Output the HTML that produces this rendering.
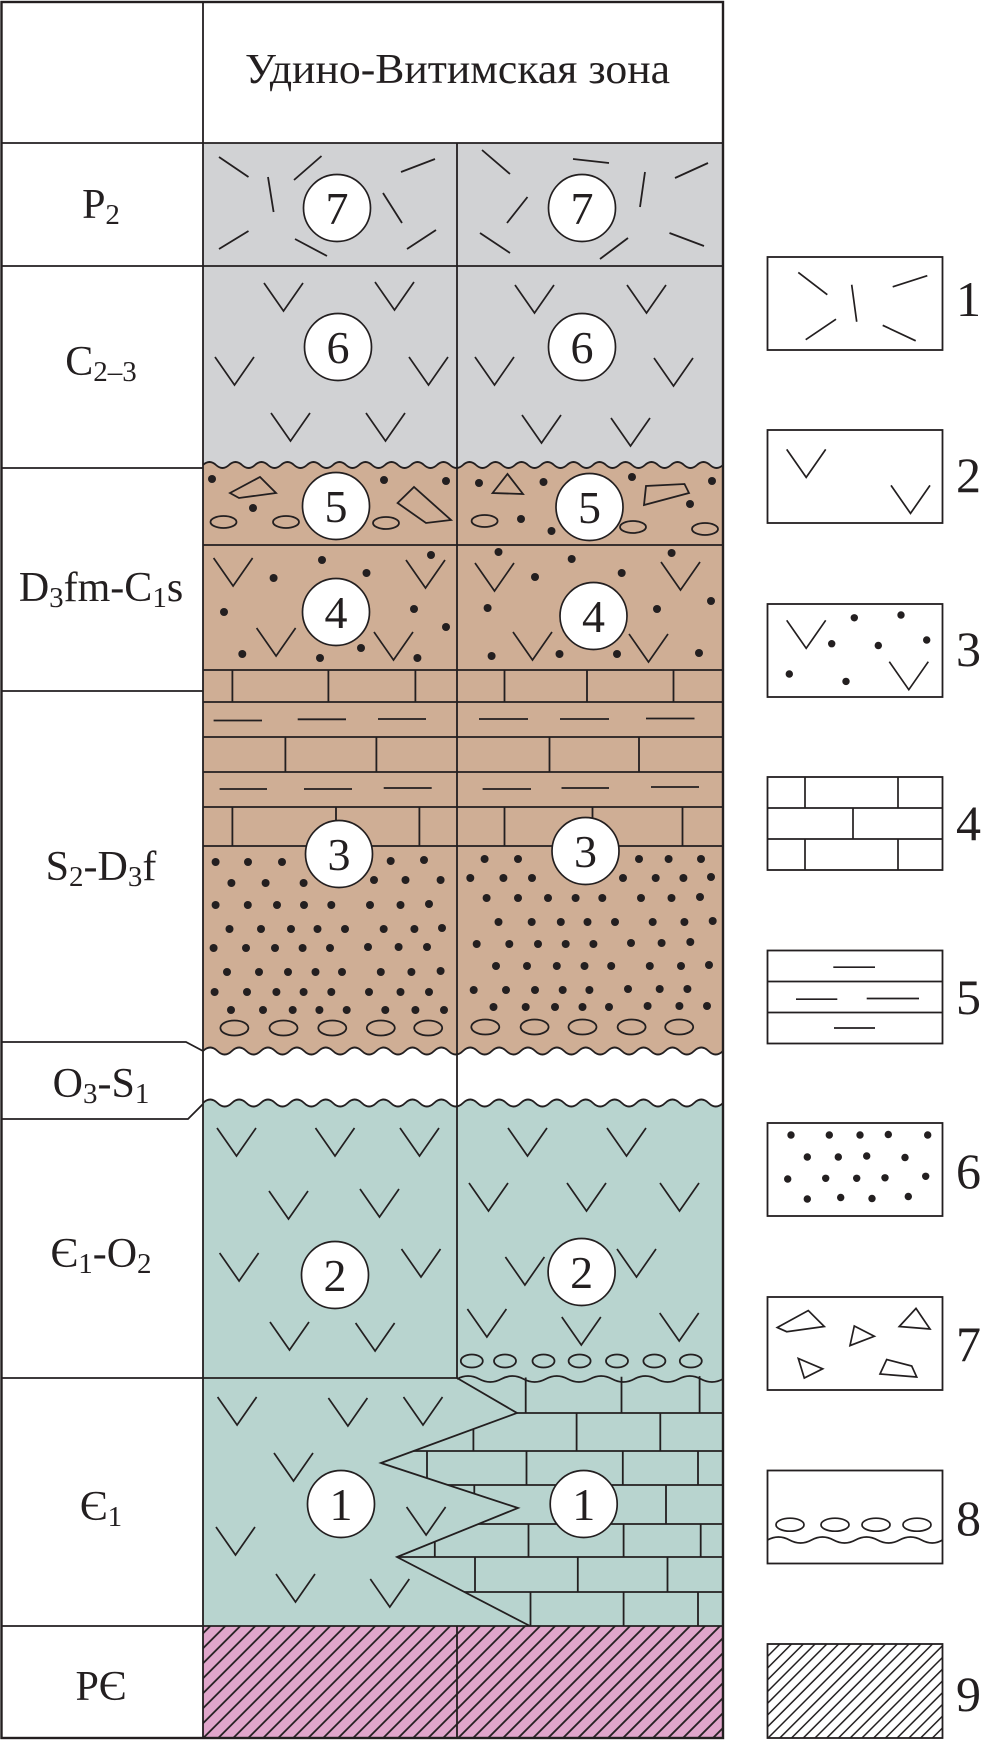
<!DOCTYPE html>
<html><head><meta charset="utf-8"><style>
html,body{margin:0;padding:0;background:#fff;}
svg{display:block;}
text{font-family:"Liberation Serif","DejaVu Serif",serif;fill:#231f20;}
</style></head><body>
<svg width="992" height="1741" viewBox="0 0 992 1741" xmlns="http://www.w3.org/2000/svg">
<defs>
<path id="v" d="M0,0 L19.5,28 L39,0" fill="none" stroke="#231f20" stroke-width="1.7"/>
<circle id="d" r="4" fill="#231f20"/>
<circle id="ds" r="3.7" fill="#231f20"/>
<pattern id="hp" patternUnits="userSpaceOnUse" width="10.6" height="20" patternTransform="rotate(45)">
<rect width="10.6" height="20" fill="#e0a6cb"/>
<line x1="5.3" y1="-2" x2="5.3" y2="22" stroke="#231f20" stroke-width="1.8"/>
</pattern>
<pattern id="hl" patternUnits="userSpaceOnUse" width="8.3" height="20" patternTransform="rotate(45)">
<rect width="8.3" height="20" fill="#fff"/>
<line x1="4.15" y1="-2" x2="4.15" y2="22" stroke="#231f20" stroke-width="1.5"/>
</pattern>
<clipPath id="lime"><polygon points="457,1378 517,1413 381,1463 518,1508 397,1557 530,1626 723,1626 723,1376"/></clipPath>
</defs>

<rect width="992" height="1741" fill="#fff"/>

<!-- fills -->
<rect x="203" y="143" width="520" height="327" fill="#d1d2d4"/>
<rect x="203" y="470" width="520" height="578" fill="#cfae95"/>
<path d="M203,465 q6.5,-6 13,0 t13,0 t13,0 t13,0 t13,0 t13,0 t13,0 t13,0 t13,0 t13,0 t13,0 t13,0 t13,0 t13,0 t13,0 t13,0 t13,0 t13,0 t13,0 t13,0 t13,0 t13,0 t13,0 t13,0 t13,0 t13,0 t13,0 t13,0 t13,0 t13,0 t13,0 t13,0 t13,0 t13,0 t13,0 t13,0 t13,0 t13,0 t13,0 t13,0 L723,472 L203,472 Z" fill="#cfae95"/>
<path d="M203,1051 q7.222,-7 14.444,0 t14.444,0 t14.444,0 t14.444,0 t14.444,0 t14.444,0 t14.444,0 t14.444,0 t14.444,0 t14.444,0 t14.444,0 t14.444,0 t14.444,0 t14.444,0 t14.444,0 t14.444,0 t14.444,0 t14.444,0 t14.444,0 t14.444,0 t14.444,0 t14.444,0 t14.444,0 t14.444,0 t14.444,0 t14.444,0 t14.444,0 t14.444,0 t14.444,0 t14.444,0 t14.444,0 t14.444,0 t14.444,0 t14.444,0 t14.444,0 t14.444,0 L723,1046 L203,1046 Z" fill="#cfae95"/>
<rect x="203" y="1107" width="520" height="519" fill="#b8d4cf"/>
<path d="M203,1103 q7.222,-7 14.444,0 t14.444,0 t14.444,0 t14.444,0 t14.444,0 t14.444,0 t14.444,0 t14.444,0 t14.444,0 t14.444,0 t14.444,0 t14.444,0 t14.444,0 t14.444,0 t14.444,0 t14.444,0 t14.444,0 t14.444,0 t14.444,0 t14.444,0 t14.444,0 t14.444,0 t14.444,0 t14.444,0 t14.444,0 t14.444,0 t14.444,0 t14.444,0 t14.444,0 t14.444,0 t14.444,0 t14.444,0 t14.444,0 t14.444,0 t14.444,0 t14.444,0 L723,1108 L203,1108 Z" fill="#b8d4cf"/>
<rect x="203" y="1626" width="520" height="112" fill="url(#hp)"/>

<!-- lines -->
<g fill="none" stroke="#231f20" stroke-width="1.8">
<path d="M203,465 q6.5,-6 13,0 t13,0 t13,0 t13,0 t13,0 t13,0 t13,0 t13,0 t13,0 t13,0 t13,0 t13,0 t13,0 t13,0 t13,0 t13,0 t13,0 t13,0 t13,0 t13,0 t13,0 t13,0 t13,0 t13,0 t13,0 t13,0 t13,0 t13,0 t13,0 t13,0 t13,0 t13,0 t13,0 t13,0 t13,0 t13,0 t13,0 t13,0 t13,0 t13,0"/>
<path d="M203,1051 q7.222,-7 14.444,0 t14.444,0 t14.444,0 t14.444,0 t14.444,0 t14.444,0 t14.444,0 t14.444,0 t14.444,0 t14.444,0 t14.444,0 t14.444,0 t14.444,0 t14.444,0 t14.444,0 t14.444,0 t14.444,0 t14.444,0 t14.444,0 t14.444,0 t14.444,0 t14.444,0 t14.444,0 t14.444,0 t14.444,0 t14.444,0 t14.444,0 t14.444,0 t14.444,0 t14.444,0 t14.444,0 t14.444,0 t14.444,0 t14.444,0 t14.444,0 t14.444,0"/>
<path d="M203,1103 q7.222,-7 14.444,0 t14.444,0 t14.444,0 t14.444,0 t14.444,0 t14.444,0 t14.444,0 t14.444,0 t14.444,0 t14.444,0 t14.444,0 t14.444,0 t14.444,0 t14.444,0 t14.444,0 t14.444,0 t14.444,0 t14.444,0 t14.444,0 t14.444,0 t14.444,0 t14.444,0 t14.444,0 t14.444,0 t14.444,0 t14.444,0 t14.444,0 t14.444,0 t14.444,0 t14.444,0 t14.444,0 t14.444,0 t14.444,0 t14.444,0 t14.444,0 t14.444,0"/>
<path d="M457,1379 q11.083,-6 22.167,0 t22.167,0 t22.167,0 t22.167,0 t22.167,0 t22.167,0 t22.167,0 t22.167,0 t22.167,0 t22.167,0 t22.167,0 t22.167,0"/>

<path d="M1,143 H723 M1,266 H723 M1,468 H203 M203,545 H723 M203,670 H723 M1,691 H203 M203,702 H723 M203,737 H723 M203,772 H723 M203,807 H723 M203,846 H723 M1,1378 H457 M1,1626 H723"/>
<path d="M1,1042 H186 L203,1051 M1,1119 H188 L203,1104"/>
<path d="M203,2 V1738 M457,143 V1378 M457,1626 V1738"/>
<rect x="1.5" y="2" width="721.5" height="1736" stroke-width="2.4"/>

<!-- layer 7 dashes -->
<path d="M219,157 L248.5,177 M294,180 L321.5,156 M401,172 L435,159 M268,177 L273.6,212 M383,193 L402,223 M219,249 L248.5,231 M295,239 L327,256 M407,249 L436,230
M482,150 L510,174 M573,159 L609,163 M675,178 L708,163 M645,172 L640,207 M507,223 L527.5,197 M480,233 L510,253 M600,259 L628,238 M669.5,233 L704,246"/>

<!-- strata bricks -->
<path d="M232.4,670 V702 M328.4,670 V702 M415.4,670 V702 M504.5,670 V702 M587,670 V702 M673.5,670 V702
M285.4,737 V772 M376.4,737 V772 M549.5,737 V772 M639,737 V772
M232.4,807 V846 M336,807 V846 M419.4,807 V846 M504.5,807 V846 M592.5,807 V846 M682.5,807 V846"/>
<path d="M213.6,720.5 H262 M297.7,719.3 H346 M378,719 H426 M479,719 H528 M560,719 H609 M646,718.5 H694.5
M219.6,789 H267 M304,789 H352 M383.7,788 H431.7 M482.6,789 H531 M561.5,788 H609 M651,787 H699"/>

<!-- ovals -->
<ellipse cx="223.5" cy="522" rx="13" ry="6"/><ellipse cx="286" cy="522" rx="13" ry="6"/><ellipse cx="386" cy="523" rx="13" ry="6"/>
<ellipse cx="484.6" cy="521" rx="13" ry="6"/><ellipse cx="633" cy="527" rx="13" ry="6"/><ellipse cx="705" cy="529" rx="13" ry="6"/>
<polygon points="230,493 260,477 276,493 239,498"/>
<polygon points="397.6,503 414,487 451,520 426,523"/>
<polygon points="492.6,493 507.5,474 523,494"/>
<polygon points="644,505 646,486 684.5,484 689,493"/>

<ellipse cx="234.4" cy="1028" rx="14" ry="7.5"/><ellipse cx="283.5" cy="1028" rx="14" ry="7.5"/><ellipse cx="332.3" cy="1028" rx="14" ry="7.5"/><ellipse cx="380.8" cy="1028" rx="14" ry="7.5"/><ellipse cx="428.2" cy="1028" rx="14" ry="7.5"/>
<ellipse cx="485.3" cy="1027" rx="14" ry="7.5"/><ellipse cx="534.6" cy="1027" rx="14" ry="7.5"/><ellipse cx="582.5" cy="1027" rx="14" ry="7.5"/><ellipse cx="631.6" cy="1027" rx="14" ry="7.5"/><ellipse cx="679.2" cy="1027" rx="14" ry="7.5"/>

<ellipse cx="471.8" cy="1361" rx="11" ry="6.5"/><ellipse cx="505" cy="1361" rx="11" ry="6.5"/><ellipse cx="543.5" cy="1361" rx="11" ry="6.5"/><ellipse cx="579.6" cy="1361" rx="11" ry="6.5"/><ellipse cx="617" cy="1361" rx="11" ry="6.5"/><ellipse cx="654.4" cy="1361" rx="11" ry="6.5"/><ellipse cx="690.8" cy="1361" rx="11" ry="6.5"/>

<!-- layer 1 limestone -->
<g clip-path="url(#lime)">
<path d="M370,1413 H723 M370,1451 H723 M370,1485 H723 M370,1524 H723 M370,1557 H723 M370,1592 H723
M525.7,1376 V1413 M621.5,1376 V1413 M699.6,1376 V1413
M473.4,1413 V1451 M576.6,1413 V1451 M660.3,1413 V1451
M427,1451 V1485 M526.5,1451 V1485 M622.8,1451 V1485 M698,1451 V1485
M474.3,1485 V1524 M666,1485 V1524
M434.8,1524 V1557 M528.5,1524 V1557 M623.6,1524 V1557 M700.7,1524 V1557
M475,1557 V1592 M577.8,1557 V1592 M667.5,1557 V1592
M530.5,1592 V1626 M623.6,1592 V1626 M698,1592 V1626"/>
</g>
<polyline points="457,1378 517,1413 381,1463 518,1508 397,1557 530,1626"/>
</g>

<!-- V marks -->
<g>
<use href="#v" x="264" y="283"/><use href="#v" x="375" y="282"/><use href="#v" x="215" y="357"/><use href="#v" x="409" y="357"/><use href="#v" x="271" y="413"/><use href="#v" x="366" y="413"/>
<use href="#v" x="515" y="285"/><use href="#v" x="627" y="285"/><use href="#v" x="475" y="357"/><use href="#v" x="654" y="358"/><use href="#v" x="522" y="415"/><use href="#v" x="611" y="418"/>
<use href="#v" x="213.6" y="558"/><use href="#v" x="406" y="560"/><use href="#v" x="256.6" y="628"/><use href="#v" x="374" y="632"/>
<use href="#v" x="475" y="563"/><use href="#v" x="661" y="562"/><use href="#v" x="513" y="632"/><use href="#v" x="629" y="634"/>
<use href="#v" x="217" y="1128"/><use href="#v" x="315.5" y="1128"/><use href="#v" x="400" y="1128"/><use href="#v" x="269" y="1191"/><use href="#v" x="360" y="1189"/><use href="#v" x="219.6" y="1253"/><use href="#v" x="401.5" y="1249"/><use href="#v" x="270" y="1322"/><use href="#v" x="355.6" y="1323"/>
<use href="#v" x="508" y="1128"/><use href="#v" x="607" y="1128"/><use href="#v" x="469" y="1183"/><use href="#v" x="567" y="1183"/><use href="#v" x="660" y="1183"/><use href="#v" x="505.4" y="1257"/><use href="#v" x="617" y="1249"/><use href="#v" x="467.4" y="1309"/><use href="#v" x="561.8" y="1317"/><use href="#v" x="659.7" y="1313"/>
<use href="#v" x="217.6" y="1397"/><use href="#v" x="328.4" y="1398"/><use href="#v" x="403.5" y="1397"/><use href="#v" x="274" y="1453"/><use href="#v" x="216" y="1527"/><use href="#v" x="406.6" y="1507"/><use href="#v" x="276" y="1574"/><use href="#v" x="370.3" y="1579"/>
</g>

<!-- dots -->
<g>
<use href="#d" x="212" y="479"/><use href="#d" x="253" y="508"/><use href="#d" x="384" y="480"/><use href="#d" x="446" y="481"/>
<use href="#d" x="479" y="483"/><use href="#d" x="543.5" y="482"/><use href="#d" x="632" y="477"/><use href="#d" x="712" y="481"/><use href="#d" x="521" y="519"/><use href="#d" x="551.5" y="531"/><use href="#d" x="690" y="504"/>
<use href="#d" x="273.6" y="578"/><use href="#d" x="322" y="560"/><use href="#d" x="366.5" y="573"/><use href="#d" x="431" y="555"/><use href="#d" x="224" y="612"/><use href="#d" x="414" y="609"/><use href="#d" x="446" y="627"/><use href="#d" x="242.3" y="654"/><use href="#d" x="320" y="658"/><use href="#d" x="361" y="648"/><use href="#d" x="417.4" y="658"/>
<use href="#d" x="498.5" y="552"/><use href="#d" x="571.7" y="559"/><use href="#d" x="671.6" y="553"/><use href="#d" x="535" y="577"/><use href="#d" x="621.7" y="573"/><use href="#d" x="487.6" y="608"/><use href="#d" x="657" y="609"/><use href="#d" x="711" y="601"/><use href="#d" x="491.6" y="656"/><use href="#d" x="559.5" y="654"/><use href="#d" x="617" y="654"/><use href="#d" x="699" y="653"/>

<use href="#d" x="215.6" y="862"/><use href="#d" x="248" y="862"/><use href="#d" x="282" y="862"/><use href="#d" x="390.7" y="861"/><use href="#d" x="424" y="860"/>
<use href="#d" x="231.4" y="883"/><use href="#d" x="265.6" y="883"/><use href="#d" x="303.6" y="883"/><use href="#d" x="374" y="880"/><use href="#d" x="405.5" y="880"/><use href="#d" x="440.6" y="880"/>
<use href="#d" x="215.6" y="905"/><use href="#d" x="247.8" y="905"/><use href="#d" x="277" y="905"/><use href="#d" x="304" y="905"/><use href="#d" x="331.3" y="905"/><use href="#d" x="370" y="905"/><use href="#d" x="400.5" y="905"/><use href="#d" x="429" y="904"/>
<use href="#d" x="229.5" y="929"/><use href="#d" x="261" y="929"/><use href="#d" x="291" y="929"/><use href="#d" x="317.5" y="929"/><use href="#d" x="345" y="929"/><use href="#d" x="383.7" y="929"/><use href="#d" x="414.4" y="929"/><use href="#d" x="442" y="928"/>
<use href="#d" x="213.6" y="948"/><use href="#d" x="246" y="948"/><use href="#d" x="275" y="948"/><use href="#d" x="302.6" y="948"/><use href="#d" x="330" y="948"/><use href="#d" x="368" y="947"/><use href="#d" x="398.6" y="947"/><use href="#d" x="427" y="947"/>
<use href="#d" x="227" y="972"/><use href="#d" x="259" y="972"/><use href="#d" x="288" y="972"/><use href="#d" x="315.5" y="972"/><use href="#d" x="342" y="972"/><use href="#d" x="380.8" y="972"/><use href="#d" x="411.4" y="972"/><use href="#d" x="440.6" y="971"/>
<use href="#d" x="214.6" y="992"/><use href="#d" x="247" y="992"/><use href="#d" x="276.4" y="992"/><use href="#d" x="303.6" y="992"/><use href="#d" x="331.3" y="992"/><use href="#d" x="369" y="992"/><use href="#d" x="400.5" y="992"/><use href="#d" x="429" y="992"/>
<use href="#d" x="231" y="1010"/><use href="#d" x="263" y="1010"/><use href="#d" x="292.7" y="1010"/><use href="#d" x="319.4" y="1010"/><use href="#d" x="346.7" y="1010"/><use href="#d" x="385.3" y="1010"/><use href="#d" x="415.4" y="1010"/><use href="#d" x="444" y="1010"/>

<use href="#d" x="484.6" y="859"/><use href="#d" x="518" y="859"/><use href="#d" x="639" y="859"/><use href="#d" x="668.6" y="859"/><use href="#d" x="701" y="859"/>
<use href="#d" x="470.3" y="878"/><use href="#d" x="503.4" y="878"/><use href="#d" x="532" y="878"/><use href="#d" x="623" y="878"/><use href="#d" x="655.7" y="878"/><use href="#d" x="683.4" y="878"/><use href="#d" x="711" y="877"/>
<use href="#d" x="486.6" y="898"/><use href="#d" x="518" y="898"/><use href="#d" x="548" y="898"/><use href="#d" x="575.6" y="898"/><use href="#d" x="602.3" y="898"/><use href="#d" x="641" y="898"/><use href="#d" x="671.5" y="898"/><use href="#d" x="700" y="897"/>
<use href="#d" x="498.5" y="922"/><use href="#d" x="531.7" y="922"/><use href="#d" x="560.8" y="922"/><use href="#d" x="587.5" y="922"/><use href="#d" x="615" y="922"/><use href="#d" x="652.7" y="922"/><use href="#d" x="684.4" y="922"/><use href="#d" x="712.7" y="921"/>
<use href="#d" x="476.7" y="944"/><use href="#d" x="509.3" y="944"/><use href="#d" x="538" y="944"/><use href="#d" x="565.7" y="944"/><use href="#d" x="593.4" y="944"/><use href="#d" x="631" y="943"/><use href="#d" x="661.6" y="943"/><use href="#d" x="690.3" y="942"/>
<use href="#d" x="496" y="966"/><use href="#d" x="527" y="966"/><use href="#d" x="556.8" y="966"/><use href="#d" x="584.5" y="966"/><use href="#d" x="611.2" y="966"/><use href="#d" x="649.8" y="966"/><use href="#d" x="681" y="966"/><use href="#d" x="709" y="965"/>
<use href="#d" x="473.7" y="990"/><use href="#d" x="506" y="990"/><use href="#d" x="535" y="990"/><use href="#d" x="562.7" y="990"/><use href="#d" x="589.4" y="990"/><use href="#d" x="628" y="989"/><use href="#d" x="659.7" y="989"/><use href="#d" x="687.4" y="989"/>
<use href="#d" x="493.5" y="1007"/><use href="#d" x="525.7" y="1007"/><use href="#d" x="555" y="1007"/><use href="#d" x="582.5" y="1007"/><use href="#d" x="609" y="1007"/><use href="#d" x="647.6" y="1006"/><use href="#d" x="679.4" y="1006"/><use href="#d" x="707" y="1006"/>
</g>

<!-- circles -->
<g fill="#fff" stroke="#231f20" stroke-width="1.7">
<circle cx="337" cy="208" r="33.5"/><circle cx="582" cy="208" r="33.5"/>
<circle cx="338" cy="347" r="33.5"/><circle cx="582" cy="347" r="33.5"/>
<circle cx="336" cy="506" r="33.5"/><circle cx="589.5" cy="507" r="33.5"/>
<circle cx="336" cy="612" r="33.5"/><circle cx="593.5" cy="616" r="33.5"/>
<circle cx="339" cy="854" r="33.5"/><circle cx="585.5" cy="851" r="33.5"/>
<circle cx="335" cy="1275" r="33.5"/><circle cx="581.6" cy="1272" r="33.5"/>
<circle cx="341" cy="1504" r="33.5"/><circle cx="583.7" cy="1504" r="33.5"/>
</g>
<g font-size="46" text-anchor="middle">
<text x="337" y="224">7</text><text x="582" y="224">7</text>
<text x="338" y="363">6</text><text x="582" y="363">6</text>
<text x="336" y="522">5</text><text x="589.5" y="523">5</text>
<text x="336" y="628">4</text><text x="593.5" y="632">4</text>
<text x="339" y="870">3</text><text x="585.5" y="867">3</text>
<text x="335" y="1291">2</text><text x="581.6" y="1288">2</text>
<text x="341" y="1520">1</text><text x="583.7" y="1520">1</text>
</g>

<!-- header and labels -->
<text x="245" y="83" font-size="42" textLength="425" lengthAdjust="spacingAndGlyphs">Удино-Витимская зона</text>
<g font-size="42" text-anchor="middle">
<text x="101" y="218">P<tspan font-size="29" dy="6">2</tspan></text>
<text x="101" y="375">C<tspan font-size="29" dy="6">2–3</tspan></text>
<text x="101" y="601">D<tspan font-size="29" dy="6">3</tspan><tspan dy="-6">fm-C</tspan><tspan font-size="29" dy="6">1</tspan><tspan dy="-6">s</tspan></text>
<text x="101" y="880">S<tspan font-size="29" dy="6">2</tspan><tspan dy="-6">-D</tspan><tspan font-size="29" dy="6">3</tspan><tspan dy="-6">f</tspan></text>
<text x="101" y="1097">O<tspan font-size="29" dy="6">3</tspan><tspan dy="-6">-S</tspan><tspan font-size="29" dy="6">1</tspan></text>
<text x="101" y="1267">Є<tspan font-size="29" dy="6">1</tspan><tspan dy="-6">-O</tspan><tspan font-size="29" dy="6">2</tspan></text>
<text x="101" y="1520">Є<tspan font-size="29" dy="6">1</tspan></text>
<text x="101" y="1700">PЄ</text>
</g>

<!-- legend -->
<g fill="#fff" stroke="#231f20" stroke-width="1.8">
<rect x="767.5" y="257" width="175" height="93"/>
<rect x="767.5" y="430" width="175" height="93"/>
<rect x="767.5" y="604" width="175" height="93"/>
<rect x="767.5" y="777" width="175" height="93"/>
<rect x="767.5" y="950.5" width="175" height="93"/>
<rect x="767.5" y="1123" width="175" height="93"/>
<rect x="767.5" y="1297" width="175" height="93"/>
<rect x="767.5" y="1470.5" width="175" height="93"/>
<rect x="767.5" y="1644" width="175" height="94" fill="url(#hl)"/>
</g>
<g fill="none" stroke="#231f20" stroke-width="1.7">
<path d="M798.3,272.4 L827.3,294.7 M851.7,284.7 L856.7,321.7 M892.7,286.8 L927.3,275.7 M805.7,339.7 L836,319.2 M882.7,325.3 L915.7,340.8"/>
<path d="M767.5,808 H942.5 M767.5,839 H942.5 M805,777 V808 M898,777 V808 M853,808 V839 M805,839 V870 M898,839 V870"/>
<path d="M767.5,981.5 H942.5 M767.5,1012.5 H942.5 M833.3,967.2 H875 M796,999.2 H837.3 M866.7,998.5 H919 M834,1028 H875"/>
<polygon points="777.3,1327.5 808.3,1310.5 824.3,1326.5 786.7,1331.7"/>
<polygon points="850,1345.6 854.3,1326 874.3,1336.3"/>
<polygon points="899.3,1326.5 916,1308.4 930,1329"/>
<polygon points="798.3,1358.5 804.3,1378 822.7,1368.8"/>
<polygon points="880,1374 886.7,1359.5 911.7,1366 916.7,1377"/>
<ellipse cx="790" cy="1524.7" rx="14" ry="6.5"/><ellipse cx="835" cy="1524.7" rx="14" ry="6.5"/><ellipse cx="876" cy="1524.7" rx="14" ry="6.5"/><ellipse cx="917" cy="1524.7" rx="14" ry="6.5"/>
<path d="M767.5,1540 q11,-6 22,0 t22,0 t22,0 t22,0 t22,0 t22,0 t22,0 t21,0"/>
</g>
<g>
<use href="#v" x="786.7" y="449.4"/><use href="#v" x="891" y="485.4"/>
<use href="#v" x="786.7" y="620.3"/><use href="#v" x="889.3" y="661.7"/>
<use href="#ds" x="854.3" y="617.8"/><use href="#ds" x="901" y="615"/><use href="#ds" x="831.7" y="643.7"/><use href="#ds" x="878.3" y="645.5"/><use href="#ds" x="926.7" y="640"/><use href="#ds" x="789.3" y="674"/><use href="#ds" x="846" y="681.4"/>
<use href="#ds" x="791" y="1135"/><use href="#ds" x="829.3" y="1135"/><use href="#ds" x="860" y="1135"/><use href="#ds" x="888.3" y="1134.5"/><use href="#ds" x="927.7" y="1135"/>
<use href="#ds" x="807.3" y="1157"/><use href="#ds" x="838.3" y="1157"/><use href="#ds" x="866.7" y="1156"/><use href="#ds" x="905" y="1157.5"/>
<use href="#ds" x="787.7" y="1179"/><use href="#ds" x="825.7" y="1178.3"/><use href="#ds" x="856.7" y="1178.3"/><use href="#ds" x="885" y="1177.8"/><use href="#ds" x="925.7" y="1176.3"/>
<use href="#ds" x="807.3" y="1199"/><use href="#ds" x="840.7" y="1197.5"/><use href="#ds" x="872" y="1198.5"/><use href="#ds" x="908.3" y="1196.5"/>
</g>
<g font-size="50" text-anchor="middle">
<text x="968.5" y="316">1</text>
<text x="968.5" y="492">2</text>
<text x="968.5" y="666">3</text>
<text x="968.5" y="840">4</text>
<text x="968.5" y="1014">5</text>
<text x="968.5" y="1188">6</text>
<text x="968.5" y="1361">7</text>
<text x="968.5" y="1535">8</text>
<text x="968.5" y="1711">9</text>
</g>
</svg>
</body></html>
